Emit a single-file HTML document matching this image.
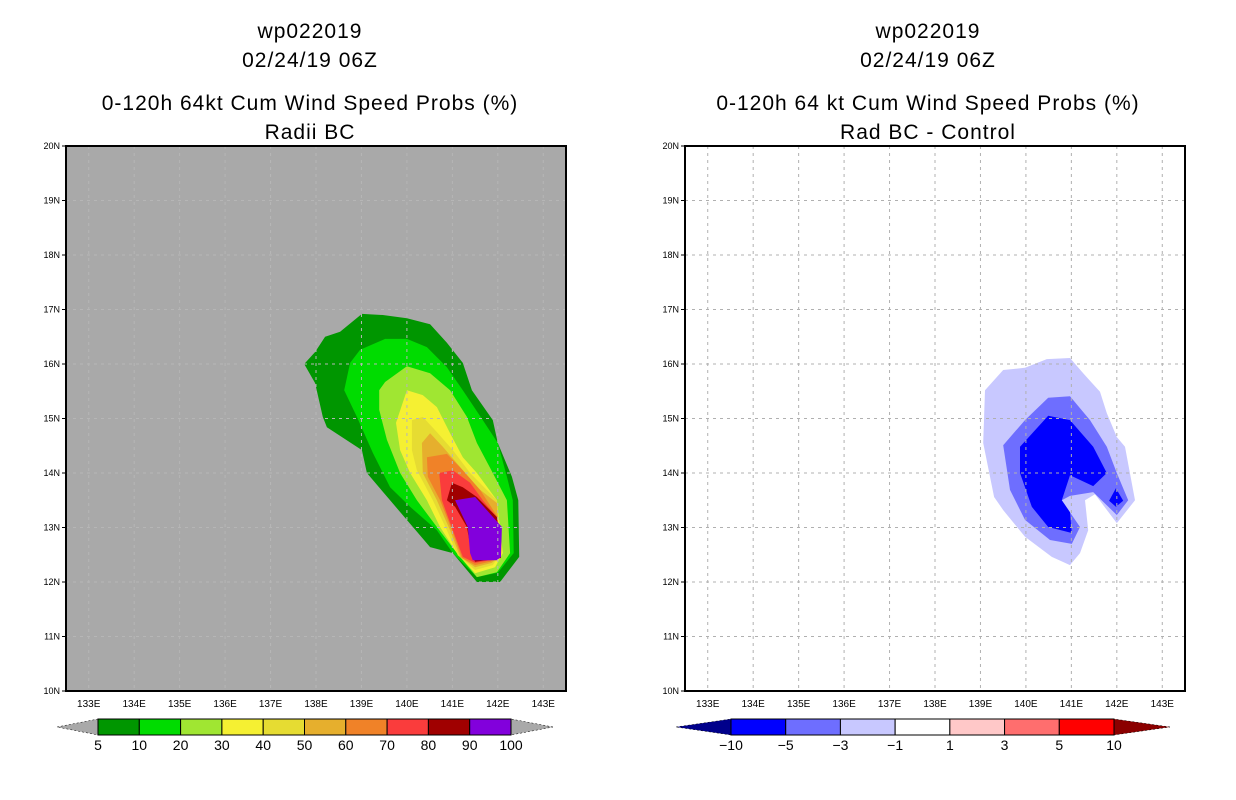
<!DOCTYPE html>
<html><head><meta charset="utf-8">
<style>
body{margin:0;background:#fff;}
svg{display:block;font-family:"Liberation Sans",sans-serif;}
</style></head>
<body>
<svg id="chart" width="1236" height="800" xmlns="http://www.w3.org/2000/svg">
<g id="titles" letter-spacing="1">
<text x="310" y="38" font-size="21" text-anchor="middle">wp022019</text>
<text x="310" y="67" font-size="21" text-anchor="middle">02/24/19 06Z</text>
<text x="310" y="110" font-size="21" text-anchor="middle">0-120h 64kt Cum Wind Speed Probs (%)</text>
<text x="310" y="139" font-size="21" text-anchor="middle">Radii BC</text>
<text x="928" y="38" font-size="21" text-anchor="middle">wp022019</text>
<text x="928" y="67" font-size="21" text-anchor="middle">02/24/19 06Z</text>
<text x="928" y="110" font-size="21" text-anchor="middle">0-120h 64 kt Cum Wind Speed Probs (%)</text>
<text x="928" y="139" font-size="21" text-anchor="middle">Rad BC - Control</text>
</g>
</svg>
<script>
const lonMin=132.5, lonMax=143.5, latMin=10, latMax=20;
const lonTicks=[133,134,135,136,137,138,139,140,141,142,143];
const latTicks=[10,11,12,13,14,15,16,17,18,19,20];
const probLevels=[5,10,20,30,40,50,60,70,80,90,100];
const probColors=['#009600','#00dc00','#a0e632','#f5f032','#e6dc32','#e6af2d','#f08228','#fa3c3c','#a00000','#8200dc'];
const probContours=[
[[137.74,16.0],[137.98,16.22],[138.2,16.5],[138.53,16.59],[139.01,16.92],[139.47,16.9],[140.0,16.84],[140.51,16.73],[140.88,16.39],[141.23,16.02],[141.43,15.52],[141.89,14.97],[142.0,14.55],[142.31,13.93],[142.45,13.5],[142.47,12.46],[142.05,12.0],[141.54,12.0],[141.01,12.53],[140.51,12.64],[139.63,13.5],[139.12,14.0],[139.01,14.42],[138.24,14.84],[138.15,15.03],[137.98,15.65]],
[[138.62,15.52],[138.75,16.02],[138.97,16.26],[139.52,16.46],[140.0,16.46],[140.44,16.31],[140.88,15.94],[141.23,15.52],[141.67,14.97],[142.0,14.55],[142.2,13.93],[142.33,13.5],[142.35,12.53],[142.0,12.17],[141.54,12.09],[141.01,12.53],[140.66,12.95],[140.07,13.38],[139.63,13.74],[139.25,14.37],[138.9,15.03]],
[[139.39,15.52],[139.52,15.67],[140.0,15.96],[140.51,15.83],[140.95,15.52],[141.32,15.03],[141.54,14.55],[141.89,14.0],[142.2,13.5],[142.27,12.53],[141.98,12.18],[141.54,12.09],[141.1,12.53],[140.66,13.01],[140.22,13.5],[139.85,14.0],[139.56,14.61],[139.39,15.16]],
[[139.76,14.92],[140.0,15.52],[140.35,15.43],[140.66,15.21],[140.95,14.73],[141.23,14.29],[141.54,14.0],[141.98,13.5],[142.11,12.53],[141.94,12.27],[141.5,12.16],[141.1,12.53],[140.73,13.01],[140.44,13.5],[140.07,14.0],[139.85,14.42]],
[[140.11,14.97],[140.35,15.03],[140.66,14.75],[141.01,14.42],[141.39,14.0],[141.98,13.5],[142.07,12.53],[141.89,12.31],[141.5,12.22],[141.12,12.49],[140.88,12.95],[140.57,13.5],[140.22,14.05],[140.11,14.42]],
[[140.33,14.55],[140.51,14.73],[140.79,14.48],[141.17,14.11],[141.54,13.74],[141.98,13.45],[142.05,12.49],[141.87,12.35],[141.5,12.27],[141.17,12.46],[140.95,12.95],[140.66,13.5],[140.35,14.0]],
[[140.44,14.29],[140.88,14.35],[141.23,14.05],[141.61,13.69],[142.0,13.19],[142.03,12.46],[141.83,12.37],[141.5,12.31],[141.21,12.44],[140.99,12.95],[140.73,13.5],[140.46,13.93]],
[[140.71,14.0],[141.01,14.05],[141.39,13.82],[141.67,13.5],[141.98,13.19],[142.05,12.46],[141.83,12.4],[141.5,12.35],[141.23,12.46],[141.01,12.95],[140.77,13.5]],
[[140.88,13.5],[140.99,13.82],[141.23,13.74],[141.54,13.56],[141.98,13.19],[142.07,12.44],[141.5,12.37],[141.43,12.49],[141.32,13.01],[141.06,13.38]],
[[141.06,13.5],[141.5,13.56],[142.09,13.01],[142.07,12.46],[141.98,12.4],[141.45,12.4],[141.39,12.53],[141.34,13.01]]
];
const diffLevels=[-10,-5,-3,-1,1,3,5,10];
const diffColors=['#00008b','#0000ff','#6e6eff','#c8c8ff','#ffffff','#ffc8c8','#ff6e6e','#ff0000','#8b0000'];
const diffContourColors=['#c8c8ff','#6e6eff','#0000ff','#0000ff'];
const diffContours=[
[[139.1,15.52],[139.5,15.89],[139.98,15.93],[140.46,16.09],[140.97,16.11],[141.26,15.83],[141.63,15.49],[141.78,15.1],[142.0,14.66],[142.18,14.48],[142.4,13.5],[142.0,13.08],[141.52,13.61],[141.3,13.5],[141.37,12.95],[141.19,12.53],[140.97,12.31],[140.57,12.46],[139.98,12.83],[139.5,13.32],[139.3,13.56],[139.06,14.55]],
[[139.5,14.51],[139.98,14.97],[140.49,15.38],[140.97,15.41],[141.41,14.97],[141.78,14.48],[142.0,14.0],[142.25,13.5],[142.0,13.23],[141.48,13.65],[140.97,13.58],[140.79,13.5],[141.19,13.01],[141.01,12.7],[140.53,12.77],[139.98,13.14],[139.65,13.69]],
[[139.87,14.48],[140.49,15.05],[140.97,14.97],[141.48,14.48],[141.78,14.0],[141.48,13.76],[140.97,13.96],[140.79,13.5],[140.97,13.28],[141.01,12.9],[140.49,13.01],[140.13,13.38],[139.87,14.0]],
[[141.98,13.72],[142.14,13.49],[141.98,13.38],[141.83,13.49]]
];

const NS='http://www.w3.org/2000/svg';
const svg=document.getElementById('chart');
function mk(tag,attrs,parent){const e=document.createElementNS(NS,tag);for(const k in attrs)e.setAttribute(k,attrs[k]);(parent||svg).appendChild(e);return e;}

function panel(x0,bg,contours,colors,gridColor,prefix){
  const W=500,H=545,y0=146;
  const X=lon=>x0+(lon-lonMin)/(lonMax-lonMin)*W;
  const Y=lat=>y0+(latMax-lat)/(latMax-latMin)*H;
  const g=mk('g',{});
  
  
  const bgR=mk('rect',{x:x0,y:y0,width:W,height:H,fill:bg},g);
  
  
  contours.forEach((poly,i)=>{
    const p=mk('polygon',{points:poly.map(v=>X(v[0]).toFixed(1)+','+Y(v[1]).toFixed(1)).join(' '),fill:colors[i]},g);
    
    
  });
  lonTicks.forEach(l=>{
    const ln=mk('line',{x1:X(l),x2:X(l),y1:y0,y2:y0+H,stroke:gridColor,'stroke-width':1,'stroke-dasharray':'3,4'},g);
    
    
    const t=mk('text',{x:X(l),y:y0+H+16,'font-size':10,'text-anchor':'middle'},g);
    t.textContent=l+'E';
    
    
  });
  latTicks.forEach(l=>{
    if(l>latMin&&l<latMax){
      const ln=mk('line',{x1:x0,x2:x0+W,y1:Y(l),y2:Y(l),stroke:gridColor,'stroke-width':1,'stroke-dasharray':'3,4'},g);
      
      
    }
    mk('line',{x1:x0-4,x2:x0,y1:Y(l),y2:Y(l),stroke:'#000'},g);
    const t=mk('text',{x:x0-6,y:Y(l)+3,'font-size':9,'text-anchor':'end'},g);
    t.textContent=l+'N';
    
    
  });
  const fr=mk('rect',{x:x0,y:y0,width:W,height:H,fill:'none',stroke:'#000','stroke-width':2},g);
  
  
}
panel(66,'#a9a9a9',probContours,probColors,'#b6b6b6','left');
panel(685,'#ffffff',diffContours,diffContourColors,'#b0b0b0','right');

function colorbar(xL,xR,tipL,tipR,colors,labels,triL,triR,prefix){
  const y0=719,h=16,n=colors.length,w=(xR-xL)/n;
  const g=mk('g',{});
  
  
  const tl=mk('polygon',{points:`${tipL},${y0+h/2} ${xL},${y0} ${xL},${y0+h}`,fill:triL,stroke:'#000','stroke-width':0.5,'stroke-dasharray':'2,2'},g);
  
  
  const tr=mk('polygon',{points:`${tipR},${y0+h/2} ${xR},${y0} ${xR},${y0+h}`,fill:triR,stroke:'#000','stroke-width':0.5,'stroke-dasharray':'2,2'},g);
  
  
  colors.forEach((c,i)=>{
    const r=mk('rect',{x:xL+i*w,y:y0,width:w,height:h,fill:c,stroke:'#000','stroke-width':1},g);
    
    
  });
  labels.forEach((l,i)=>{
    const t=mk('text',{x:xL+i*w,y:y0+h+15,'font-size':14,'text-anchor':'middle'},g);
    t.textContent=String(l).replace('-','\u2212');
    
    
  });
}
colorbar(98,511,57,553,probColors,probLevels,'#a9a9a9','#a9a9a9','left');
colorbar(731,1114,676,1170,diffColors.slice(1,8),diffLevels,diffColors[0],diffColors[8],'right');
</script>
</body></html>
